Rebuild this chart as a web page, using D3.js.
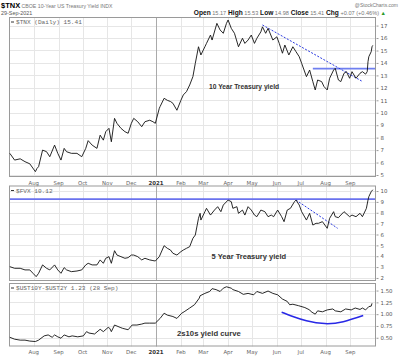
<!DOCTYPE html>
<html><head><meta charset="utf-8">
<script src="https://cdn.jsdelivr.net/npm/d3@7"></script>
<style>body{margin:0;background:#fff}svg{display:block}</style>
</head><body><svg id="c" width="400" height="356"></svg>
<script>
// ---- data ----
const tnx = [["2020-07-02",6.74],["2020-07-08",6.2],["2020-07-15",6.3],["2020-07-21",6.07],["2020-07-27",5.9],["2020-08-03",5.27],["2020-08-05",5.53],["2020-08-07",5.67],["2020-08-12",7.0],["2020-08-17",6.87],["2020-08-21",6.47],["2020-08-27",7.4],["2020-08-31",6.74],["2020-09-04",6.2],["2020-09-08",7.14],["2020-09-11",6.87],["2020-09-17",6.74],["2020-09-24",6.74],["2020-09-30",6.47],["2020-10-05",7.14],["2020-10-08",7.76],["2020-10-13",7.4],["2020-10-19",7.14],["2020-10-23",8.2],["2020-10-27",7.8],["2020-10-30",8.48],["2020-11-03",8.75],["2020-11-06",7.67],["2020-11-10",9.55],["2020-11-13",9.15],["2020-11-18",8.75],["2020-11-23",8.48],["2020-11-27",8.35],["2020-12-01",9.15],["2020-12-04",9.55],["2020-12-09",9.28],["2020-12-14",8.88],["2020-12-18",9.28],["2020-12-24",9.4],["2020-12-28",9.28],["2020-12-31",9.15],["2021-01-05",10.36],["2021-01-06",10.5],["2021-01-11",11.16],["2021-01-15",11.0],["2021-01-19",10.9],["2021-01-22",10.76],["2021-01-27",10.2],["2021-02-01",11.0],["2021-02-04",11.43],["2021-02-08",11.7],["2021-02-12",12.23],["2021-02-16",12.9],["2021-02-19",13.97],["2021-02-23",15.3],["2021-02-26",14.64],["2021-03-03",15.3],["2021-03-05",15.57],["2021-03-10",16.24],["2021-03-12",15.84],["2021-03-18",17.18],["2021-03-22",16.65],["2021-03-26",16.38],["2021-03-30",17.18],["2021-04-01",17.45],["2021-04-05",16.78],["2021-04-09",16.38],["2021-04-14",15.3],["2021-04-19",15.98],["2021-04-22",15.57],["2021-04-26",15.84],["2021-04-30",16.24],["2021-05-04",15.57],["2021-05-07",15.98],["2021-05-12",16.5],["2021-05-14",16.9],["2021-05-18",16.38],["2021-05-21",16.78],["2021-05-27",15.84],["2021-06-01",16.1],["2021-06-04",15.57],["2021-06-08",14.78],["2021-06-11",15.44],["2021-06-16",14.64],["2021-06-21",15.3],["2021-06-25",14.9],["2021-06-29",14.5],["2021-07-02",13.97],["2021-07-08",12.9],["2021-07-12",13.43],["2021-07-16",12.5],["2021-07-19",11.83],["2021-07-22",12.63],["2021-07-27",12.5],["2021-07-30",12.1],["2021-08-03",11.83],["2021-08-06",12.77],["2021-08-11",13.43],["2021-08-13",13.57],["2021-08-17",12.63],["2021-08-20",12.5],["2021-08-24",13.17],["2021-08-27",13.3],["2021-08-31",12.77],["2021-09-03",13.3],["2021-09-08",12.77],["2021-09-13",13.17],["2021-09-16",13.3],["2021-09-20",13.1],["2021-09-22",13.3],["2021-09-23",14.1],["2021-09-24",14.5],["2021-09-27",14.9],["2021-09-28",15.3],["2021-09-29",15.41]];
const fvx = [["2020-07-02",3.04],["2020-07-08",2.89],["2020-07-15",2.89],["2020-07-21",2.74],["2020-07-27",2.74],["2020-07-31",2.43],["2020-08-04",2.12],["2020-08-07",2.43],["2020-08-12",3.2],["2020-08-17",2.89],["2020-08-21",2.74],["2020-08-27",3.2],["2020-08-31",2.74],["2020-09-04",2.43],["2020-09-08",2.95],["2020-09-11",2.74],["2020-09-17",2.58],["2020-09-24",2.64],["2020-09-30",2.74],["2020-10-05",3.2],["2020-10-08",3.35],["2020-10-13",3.2],["2020-10-19",3.2],["2020-10-23",3.66],["2020-10-27",3.35],["2020-10-30",3.81],["2020-11-03",3.96],["2020-11-06",3.35],["2020-11-10",4.51],["2020-11-13",4.11],["2020-11-18",3.96],["2020-11-23",3.81],["2020-11-27",3.87],["2020-12-01",4.11],["2020-12-04",4.11],["2020-12-09",3.96],["2020-12-14",3.66],["2020-12-18",3.81],["2020-12-24",3.66],["2020-12-28",3.6],["2020-12-31",3.56],["2021-01-05",3.96],["2021-01-07",4.3],["2021-01-11",4.97],["2021-01-15",4.73],["2021-01-19",4.57],["2021-01-22",4.27],["2021-01-27",4.11],["2021-02-01",4.42],["2021-02-04",4.57],["2021-02-08",4.73],["2021-02-12",4.88],["2021-02-16",5.65],["2021-02-19",5.95],["2021-02-23",7.49],["2021-02-25",7.95],["2021-02-26",7.33],["2021-03-03",8.1],["2021-03-05",8.41],["2021-03-10",7.79],["2021-03-15",8.25],["2021-03-19",8.56],["2021-03-23",8.1],["2021-03-26",8.71],["2021-04-01",9.17],["2021-04-05",9.02],["2021-04-07",8.41],["2021-04-12",8.56],["2021-04-14",7.95],["2021-04-19",8.25],["2021-04-22",7.79],["2021-04-26",8.56],["2021-04-30",8.25],["2021-05-04",7.79],["2021-05-07",7.64],["2021-05-12",8.25],["2021-05-17",8.1],["2021-05-21",7.64],["2021-05-25",7.79],["2021-05-28",7.64],["2021-06-02",8.25],["2021-06-07",7.64],["2021-06-10",7.18],["2021-06-14",8.25],["2021-06-18",8.41],["2021-06-23",9.02],["2021-06-25",9.17],["2021-06-29",8.71],["2021-07-02",8.1],["2021-07-08",7.33],["2021-07-12",7.95],["2021-07-16",6.87],["2021-07-20",7.03],["2021-07-23",7.03],["2021-07-28",7.18],["2021-08-03",6.57],["2021-08-06",7.49],["2021-08-11",8.1],["2021-08-13",7.64],["2021-08-17",7.55],["2021-08-20",7.79],["2021-08-24",8.1],["2021-08-31",7.64],["2021-09-03",7.79],["2021-09-08",7.64],["2021-09-13",7.95],["2021-09-16",7.64],["2021-09-20",8.25],["2021-09-21",8.41],["2021-09-23",9.17],["2021-09-24",9.48],["2021-09-27",9.94],["2021-09-29",10.12]];
const spread = [["2020-07-02",0.51],["2020-07-08",0.47],["2020-07-15",0.45],["2020-07-21",0.45],["2020-07-27",0.43],["2020-08-03",0.42],["2020-08-07",0.45],["2020-08-14",0.54],["2020-08-19",0.56],["2020-08-24",0.51],["2020-08-27",0.56],["2020-08-31",0.52],["2020-09-04",0.49],["2020-09-08",0.56],["2020-09-14",0.52],["2020-09-18",0.54],["2020-09-25",0.52],["2020-10-02",0.54],["2020-10-06",0.63],["2020-10-09",0.60],["2020-10-16",0.58],["2020-10-23",0.68],["2020-10-27",0.63],["2020-11-02",0.72],["2020-11-04",0.70],["2020-11-06",0.63],["2020-11-10",0.77],["2020-11-17",0.72],["2020-11-20",0.70],["2020-11-27",0.67],["2020-12-02",0.77],["2020-12-08",0.77],["2020-12-14",0.79],["2020-12-18",0.81],["2020-12-24",0.81],["2020-12-31",0.81],["2021-01-06",0.91],["2021-01-11",1.02],["2021-01-15",0.98],["2021-01-22",0.95],["2021-01-27",0.91],["2021-02-02",1.02],["2021-02-05",1.05],["2021-02-12",1.13],["2021-02-18",1.20],["2021-02-24",1.34],["2021-02-25",1.39],["2021-03-03",1.44],["2021-03-09",1.48],["2021-03-12",1.54],["2021-03-17",1.52],["2021-03-22",1.48],["2021-03-26",1.55],["2021-03-30",1.58],["2021-04-05",1.55],["2021-04-07",1.52],["2021-04-14",1.48],["2021-04-20",1.42],["2021-04-26",1.44],["2021-05-03",1.41],["2021-05-07",1.48],["2021-05-14",1.44],["2021-05-21",1.49],["2021-05-27",1.44],["2021-06-02",1.41],["2021-06-08",1.32],["2021-06-14",1.27],["2021-06-17",1.20],["2021-06-21",1.21],["2021-06-28",1.18],["2021-07-06",1.14],["2021-07-12",1.09],["2021-07-14",1.05],["2021-07-19",1.0],["2021-07-22",1.07],["2021-07-28",1.05],["2021-08-03",1.09],["2021-08-10",1.11],["2021-08-13",1.07],["2021-08-20",1.05],["2021-08-26",1.11],["2021-09-02",1.09],["2021-09-07",1.13],["2021-09-13",1.10],["2021-09-16",1.13],["2021-09-20",1.09],["2021-09-24",1.16],["2021-09-27",1.17],["2021-09-28",1.23]];
const tnxResistance = {from:"2021-07-16", value:13.55};
const tnxTrend = [["2021-05-14",17.05],["2021-09-15",12.55]];
const fvxResistance = {from:"2020-07-01", value:9.26};
const fvxTrend = [["2021-06-25",9.17],["2021-08-16",6.57]];
const curveArc = [["2021-06-07",1.04],["2021-06-21",0.95],["2021-07-08",0.86],["2021-07-31",0.80],["2021-08-23",0.84],["2021-09-17",0.97]];
const tnxTicks = [5,6,7,8,9,10,11,12,13,14,15,16,17];
const fvxTicks = [2,3,4,5,6,7,8,9,10];
const spreadTicks = [0.5,0.75,1.0,1.25,1.5];
const monthLabels = ["Aug","Sep","Oct","Nov","Dec","2021","Feb","Mar","Apr","May","Jun","Jul","Aug","Sep"];
const notes = [
  {panel:0, text:"10 Year Treasury yield", date:"2021-04-21", value:11.9, size:6.7},
  {panel:1, text:"5 Year Treasury yield", date:"2021-04-27", value:3.75, size:7.5},
  {panel:2, text:"2s10s yield curve", date:"2021-03-08", value:0.528, size:7.7}
];

// ---- drawing ----
const parse = d3.timeParse("%Y-%m-%d");
const svg = d3.select("#c");
const X0 = 9, X1 = 376;
const x = d3.scaleTime().domain([parse("2020-07-01"), parse("2021-10-03")]).range([X0, X1]);
const monthStarts = d3.timeMonth.range(parse("2020-08-01"), parse("2021-09-02"));

const panels = [
  {top:17, bottom:177, domain:[4.84,17.69], ticks:tnxTicks, fmt:d3.format("d"), data:tnx, legend:"$TNX (Daily) 15.41"},
  {top:185.5, bottom:281, domain:[1.72,10.51], ticks:fvxTicks, fmt:d3.format("d"), data:fvx, legend:"$FVX 10.12"},
  {top:283, bottom:346.5, domain:[0.315,1.66], ticks:spreadTicks, fmt:d3.format(".2f"), data:spread, legend:"$UST10Y-$UST2Y 1.23 (28 Sep)"}
];
panels.forEach(p => { p.y = d3.scaleLinear().domain(p.domain).range([p.bottom, p.top]); });

const line = (ys) => d3.line().x(d => x(parse(d[0]))).y(d => ys(d[1]));

panels.forEach((p, i) => {
  const g = svg.append("g");
  g.selectAll(".hg").data(p.ticks).join("line")
    .attr("x1", X0).attr("x2", X1)
    .attr("y1", d => Math.round(p.y(d)) + 0.5).attr("y2", d => Math.round(p.y(d)) + 0.5)
    .attr("stroke", "#e6e6e6").attr("stroke-width", 1);
  g.selectAll(".vg").data(monthStarts).join("line")
    .attr("x1", d => Math.round(x(d)) + 0.5).attr("x2", d => Math.round(x(d)) + 0.5)
    .attr("y1", p.top).attr("y2", p.bottom)
    .attr("stroke", d => d.getMonth() === 0 ? "#aaaaaa" : "#e6e6e6").attr("stroke-width", 1);
  const ax = d3.axisRight(p.y).tickValues(p.ticks).tickFormat(p.fmt).tickSize(2).tickPadding(2);
  const axg = g.append("g").attr("transform", `translate(${X1 + 0.5},0)`).call(ax);
  axg.select(".domain").remove();
  axg.selectAll("line").attr("stroke", "#999");
  axg.selectAll("text").attr("font-family", "DejaVu Sans").attr("font-size", 5.4).attr("fill", "#555");
  g.append("rect").attr("x", X0 + 0.5).attr("y", p.top + 0.5).attr("width", X1 - X0 - 1).attr("height", p.bottom - p.top - 1)
    .attr("fill", "none").attr("stroke", "#9a9a9a").attr("stroke-width", 1);
  const ly = p.top + 5;
  g.append("line").attr("x1", X0 + 2).attr("x2", X0 + 5).attr("y1", ly).attr("y2", ly).attr("stroke", "#333").attr("stroke-width", 1);
  g.append("text").attr("x", X0 + 7).attr("y", ly + 2).attr("font-family", "Liberation Mono").attr("font-size", 6.1)
    .attr("fill", "#666").text(p.legend);
});

[panels[0].bottom + 7.5, panels[2].bottom + 7].forEach(yy => {
  svg.append("g").selectAll("text").data(monthStarts).join("text")
    .attr("x", d => x(d)).attr("y", yy).attr("text-anchor", "middle")
    .attr("font-family", "DejaVu Sans").attr("font-size", 5.4)
    .attr("font-weight", (d, i) => monthLabels[i] === "2021" ? "bold" : "normal")
    .attr("fill", (d, i) => monthLabels[i] === "2021" ? "#333" : "#666")
    .text((d, i) => monthLabels[i]);
});

const P1 = panels[0], P2 = panels[1], P3 = panels[2];
svg.append("line").attr("x1", x(parse(tnxResistance.from))).attr("x2", X1 - 1)
  .attr("y1", P1.y(tnxResistance.value)).attr("y2", P1.y(tnxResistance.value))
  .attr("stroke", "#6f7ff0").attr("stroke-width", 1.8);
svg.append("line").attr("x1", X0 + 1).attr("x2", X1 - 1)
  .attr("y1", P2.y(fvxResistance.value)).attr("y2", P2.y(fvxResistance.value))
  .attr("stroke", "#6a72ee").attr("stroke-width", 1.6);
svg.append("path").datum(tnxTrend).attr("d", line(P1.y)).attr("fill", "none")
  .attr("stroke", "#2b3be0").attr("stroke-width", 1).attr("stroke-dasharray", "2,1.5");
svg.append("path").datum(fvxTrend).attr("d", line(P2.y)).attr("fill", "none")
  .attr("stroke", "#2b3be0").attr("stroke-width", 1).attr("stroke-dasharray", "2,1.5");
svg.append("path").datum(curveArc).attr("d", line(P3.y).curve(d3.curveNatural)).attr("fill", "none")
  .attr("stroke", "#2828e6").attr("stroke-width", 1.5);

panels.forEach(p => {
  svg.append("path").datum(p.data).attr("d", line(p.y)).attr("fill", "none")
    .attr("stroke", "#111").attr("stroke-width", 0.9).attr("stroke-linejoin", "round");
});

notes.forEach(n => {
  const p = panels[n.panel];
  svg.append("text").attr("x", x(parse(n.date))).attr("y", p.y(n.value)).attr("text-anchor", "middle")
    .attr("font-family", "Liberation Sans").attr("font-weight", "bold").attr("font-size", n.size)
    .attr("fill", "#333").text(n.text);
});

const hdr = svg.append("g").attr("font-family", "Liberation Sans");
const t1 = hdr.append("text").attr("x", 1).attr("y", 7.5);
t1.append("tspan").attr("font-weight", "bold").attr("font-size", 7.5).attr("fill", "#000").text("$TNX");
t1.append("tspan").attr("font-size", 5.2).attr("fill", "#777").text(" CBOE 10-Year US Treasury Yield INDX");
hdr.append("text").attr("x", 1).attr("y", 14.5).attr("font-size", 5.4).attr("fill", "#555").text("29-Sep-2021");
hdr.append("text").attr("x", 398).attr("y", 6.5).attr("text-anchor", "end").attr("font-size", 5).attr("fill", "#777").text("@StockCharts.com");
const t2 = hdr.append("text").attr("x", 386).attr("y", 14.5).attr("text-anchor", "end");
[["Open","15.17"],["High","15.53"],["Low","14.98"],["Close","15.41"],["Chg","+0.07 (+0.46%)"]].forEach((kv, i) => {
  t2.append("tspan").attr("font-weight", "bold").attr("font-size", 6.6).attr("fill", "#111").text((i ? "  " : "") + kv[0]);
  t2.append("tspan").attr("font-size", 5.6).attr("fill", "#777").text(" " + kv[1]);
});
t2.append("tspan").attr("font-size", 5.5).attr("fill", "#2a9a2a").text(" ▲");
</script></body></html>
